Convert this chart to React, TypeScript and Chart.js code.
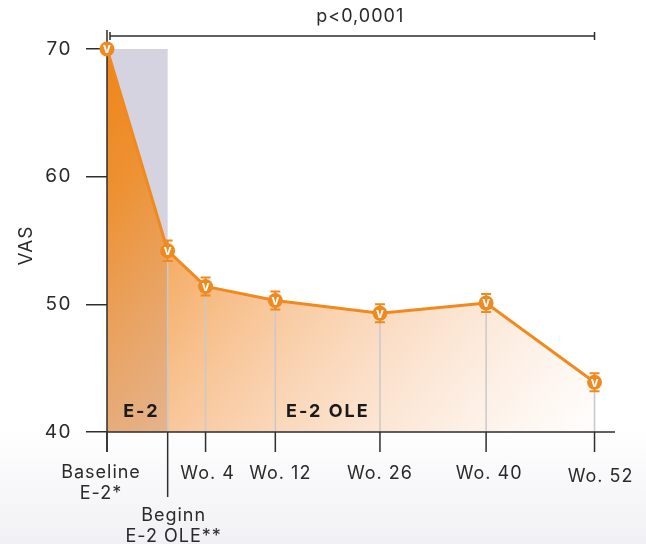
import React, { useEffect, useRef } from 'react';
import { Chart, registerables } from 'chart.js';

Chart.register(...registerables);

const categories: string[][] = [
  ['Baseline', 'E-2*'],
  ['Beginn', 'E-2 OLE**'],
  ['Wo. 4'],
  ['Wo. 12'],
  ['Wo. 26'],
  ['Wo. 40'],
  ['Wo. 52'],
];
const xPositions = [0, 8, 13, 22.2, 36, 50, 64.3];
const vasValues = [70, 54.2, 51.4, 50.3, 49.3, 50.1, 43.9];
const vasErrors = [0, 0.8, 0.7, 0.7, 0.7, 0.7, 0.7];
const yTicks = [40, 50, 60, 70];
const phaseLabels = ['E-2', 'E-2 OLE'];
const pValueLabel = 'p<0,0001';
const yTitle = 'VAS';

const FONT = 'Inter, "Open Sans", sans-serif';
const ORANGE = '#f08a1e';
const AXIS = '#2e2e2e';
// horizontal nudges of tick labels relative to their tick (style only)
const labelShift = [-6, 6, 2, 5, 0, 3, 6];

export default function App() {
  const ref = useRef<HTMLCanvasElement | null>(null);

  useEffect(() => {
    const canvas = ref.current;
    if (!canvas) return;

    const overlay = {
      id: 'overlay',
      beforeDraw(chart: any) {
        (chart.ctx as any).letterSpacing = '1.5px';
      },
      beforeDatasetsDraw(chart: any) {
        const { ctx } = chart;
        const xs = chart.scales.x;
        const ys = chart.scales.y;
        ctx.save();
        ctx.fillStyle = '#d4d3df';
        const x0 = xs.getPixelForValue(xPositions[0]);
        const x1 = xs.getPixelForValue(xPositions[1]);
        const yTop = ys.getPixelForValue(70);
        const yBot = ys.getPixelForValue(40);
        ctx.fillRect(x0, yTop, x1 - x0, yBot - yTop);
        ctx.restore();
      },
      afterDatasetsDraw(chart: any) {
        const { ctx } = chart;
        const xs = chart.scales.x;
        const ys = chart.scales.y;
        const yBot = ys.getPixelForValue(40);
        const yTop = ys.getPixelForValue(70);
        const xLeft = xs.getPixelForValue(0);
        const xRight = chart.chartArea.right;
        ctx.save();

        // drop lines
        ctx.strokeStyle = '#c9c9c9';
        ctx.lineWidth = 1.5;
        xPositions.forEach((xv, i) => {
          if (i === 0) return;
          const px = xs.getPixelForValue(xv);
          ctx.beginPath();
          ctx.moveTo(px, ys.getPixelForValue(vasValues[i]));
          ctx.lineTo(px, yBot);
          ctx.stroke();
        });

        // phase labels
        ctx.fillStyle = '#1a1a1a';
        ctx.letterSpacing = '2px';
        ctx.font = `bold 18px ${FONT}`;
        ctx.textAlign = 'center';
        ctx.textBaseline = 'middle';
        ctx.fillText(phaseLabels[0], xs.getPixelForValue((xPositions[0] + xPositions[1]) / 2) + 4, yBot - 20);
        ctx.fillText(phaseLabels[1], xs.getPixelForValue((xPositions[1] + xPositions[5]) / 2) + 1, yBot - 20);
        ctx.letterSpacing = '1px';

        // axes lines
        ctx.strokeStyle = AXIS;
        ctx.lineWidth = 1.5;
        ctx.beginPath();
        ctx.moveTo(xLeft, yTop - 19);
        ctx.lineTo(xLeft, yBot + 20);
        ctx.moveTo(xLeft, yBot);
        ctx.lineTo(xRight, yBot);
        ctx.stroke();

        // x ticks and labels
        ctx.font = `18px ${FONT}`;
        ctx.fillStyle = '#2a2a2a';
        ctx.textBaseline = 'middle';
        xPositions.forEach((xv, i) => {
          const px = xs.getPixelForValue(xv);
          const long = i === 1;
          ctx.beginPath();
          ctx.moveTo(px, yBot);
          ctx.lineTo(px, yBot + (long ? 65 : 20));
          ctx.stroke();
          const lines = categories[i];
          let startY: number;
          if (i === 0) startY = yBot + 41;
          else if (i === 1) startY = yBot + 84;
          else if (i === 6) startY = yBot + 45;
          else startY = yBot + 42;
          lines.forEach((t, k) => ctx.fillText(t, px + labelShift[i], startY + k * 21));
        });

        // error bars
        ctx.strokeStyle = ORANGE;
        ctx.lineWidth = 2;
        xPositions.forEach((xv, i) => {
          const e = vasErrors[i];
          if (!e) return;
          const px = xs.getPixelForValue(xv);
          const a = ys.getPixelForValue(vasValues[i] + e);
          const b = ys.getPixelForValue(vasValues[i] - e);
          ctx.beginPath();
          ctx.moveTo(px, a);
          ctx.lineTo(px, b);
          ctx.moveTo(px - 5, a);
          ctx.lineTo(px + 5, a);
          ctx.moveTo(px - 5, b);
          ctx.lineTo(px + 5, b);
          ctx.stroke();
        });

        // markers
        ctx.letterSpacing = '0px';
        xPositions.forEach((xv, i) => {
          const px = xs.getPixelForValue(xv);
          const py = ys.getPixelForValue(vasValues[i]);
          ctx.fillStyle = ORANGE;
          ctx.beginPath();
          ctx.arc(px, py, 7.5, 0, Math.PI * 2);
          ctx.fill();
          ctx.fillStyle = '#ffffff';
          ctx.font = `bold 13px ${FONT}`;
          ctx.textAlign = 'center';
          ctx.textBaseline = 'middle';
          ctx.fillText('v', px, py + 0.5);
        });

        // significance bracket
        const bx0 = xs.getPixelForValue(xPositions[0]) + 3;
        const bx1 = xs.getPixelForValue(xPositions[6]);
        const by = yTop - 13;
        ctx.strokeStyle = AXIS;
        ctx.lineWidth = 1.5;
        ctx.beginPath();
        ctx.moveTo(bx0, by);
        ctx.lineTo(bx1, by);
        ctx.moveTo(bx0, by - 4);
        ctx.lineTo(bx0, by + 4);
        ctx.moveTo(bx1, by - 4);
        ctx.lineTo(bx1, by + 4);
        ctx.stroke();
        ctx.letterSpacing = '1px';
        ctx.fillStyle = '#2a2a2a';
        ctx.font = `18px ${FONT}`;
        ctx.textAlign = 'center';
        ctx.textBaseline = 'middle';
        ctx.fillText(pValueLabel, (bx0 + bx1) / 2 + 8, by - 19);

        // y title
        ctx.save();
        ctx.translate(26, (yTop + yBot) / 2 + 5);
        ctx.rotate(-Math.PI / 2);
        ctx.font = `19px ${FONT}`;
        ctx.fillText(yTitle, 0, 0);
        ctx.restore();

        ctx.restore();
      },
    };

    const chart = new Chart(canvas, {
      type: 'line',
      data: {
        datasets: [
          {
            data: xPositions.map((x, i) => ({ x, y: vasValues[i] })),
            borderColor: ORANGE,
            borderWidth: 3,
            pointRadius: 0,
            tension: 0,
            fill: 'start',
            clip: 10,
            backgroundColor: (c: any) => {
              const ca = c.chart.chartArea;
              if (!ca) return 'rgba(240,138,30,0.5)';
              const g = c.chart.ctx.createLinearGradient(ca.left, ca.top, ca.right - 10, ca.bottom + 10);
              g.addColorStop(0, 'rgba(240,132,25,1)');
              g.addColorStop(0.15, 'rgba(240,138,32,0.9)');
              g.addColorStop(0.4, 'rgba(242,150,65,0.6)');
              g.addColorStop(0.7, 'rgba(244,170,110,0.3)');
              g.addColorStop(1, 'rgba(246,190,150,0)');
              return g;
            },
          } as any,
        ],
      },
      options: {
        animation: false,
        responsive: false,
        devicePixelRatio: 1,
        layout: { padding: { top: 49, right: 31, left: 0, bottom: 0 } },
        plugins: { legend: { display: false }, tooltip: { enabled: false } },
        scales: {
          x: {
            type: 'linear',
            min: 0,
            max: 67,
            ticks: { display: false },
            grid: { display: false },
            border: { display: false },
            afterFit: (s: any) => {
              s.height = 112;
            },
          },
          y: {
            min: 40,
            max: 70,
            afterBuildTicks: (s: any) => {
              s.ticks = yTicks.map((v) => ({ value: v }));
            },
            ticks: { font: { family: FONT, size: 19 }, color: '#2a2a2a', padding: 14 },
            grid: { drawOnChartArea: false, tickLength: 21, color: AXIS, lineWidth: 1.5 },
            border: { display: false },
            afterFit: (s: any) => {
              s.width = 107;
            },
          },
        },
      },
      plugins: [overlay],
    } as any);

    return () => chart.destroy();
  }, []);

  return (
    <div
      style={{
        position: 'fixed',
        left: 0,
        top: 0,
        width: 646,
        height: 544,
        background: 'linear-gradient(to bottom, #ffffff 0%, #ffffff 78%, #f1f1f5 100%)',
      }}
    >
      <canvas ref={ref} width={646} height={544} style={{ display: 'block' }} />
    </div>
  );
}
